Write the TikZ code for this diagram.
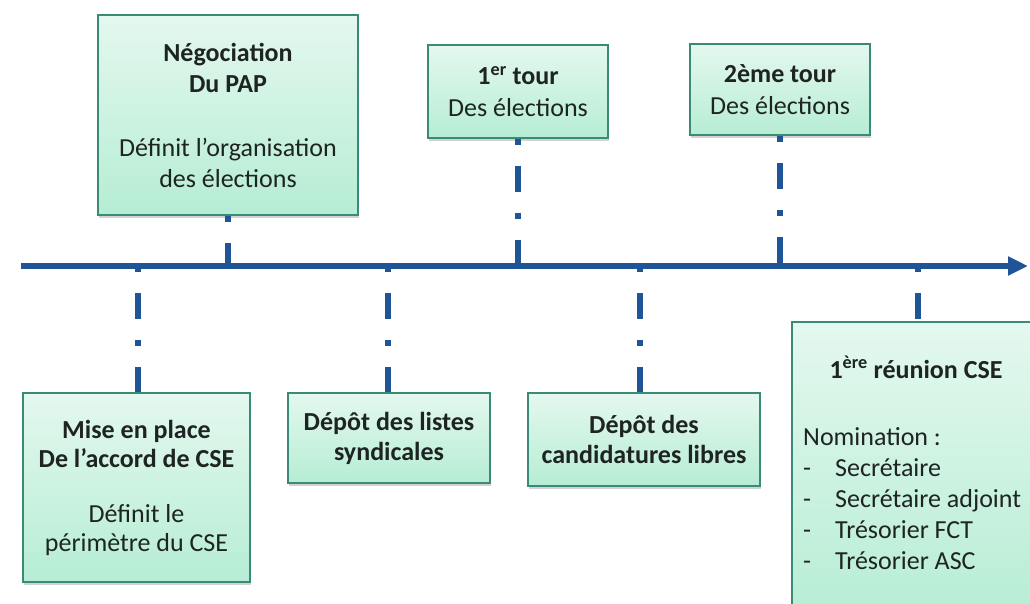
\documentclass[tikz,border=0pt]{standalone}
\usepackage{fontspec}
\setmainfont{Carlito}
\usepackage{tikz}
\usetikzlibrary{arrows.meta,shadows}
\definecolor{axisblue}{RGB}{31,84,150}
\definecolor{boxedge}{RGB}{58,138,118}
\definecolor{boxtop}{RGB}{228,248,239}
\definecolor{boxbot}{RGB}{182,237,212}
\definecolor{inkgray}{RGB}{30,36,34}

\begin{document}
\begin{tikzpicture}[x=1pt,y=-1pt,
  evbox/.style={draw=boxedge, line width=1.2pt, top color=boxtop, bottom color=boxbot,
    drop shadow={opacity=0.35,shadow xshift=1pt,shadow yshift=-3pt},
    align=center, inner sep=0pt, text=inkgray, font=\fontsize{26}{31}\selectfont},
  evtext/.style={text=inkgray, inner sep=0pt, font=\fontsize{26}{31}\selectfont},
  timeline/.style={draw=axisblue, line width=5.5pt, -{Triangle[length=20pt,width=18pt]}},
  tick/.style={draw=axisblue, line width=6pt, dash pattern=on 6pt off 21pt on 26pt off 21pt}]
\clip (0,0) rectangle (1030,603);
\fill[white] (0,0) rectangle (1030,603);

% axe du temps
\coordinate (tstart) at (21,266);
\coordinate (tend) at (1028,266);
\coordinate (tAccord) at (138,266);
\coordinate (tPAP) at (228,266);
\coordinate (tListes) at (388,266);
\coordinate (tTour1) at (518,266);
\coordinate (tLibres) at (640,266);
\coordinate (tTour2) at (780,266);
\coordinate (tReunion) at (918,266);
\draw[timeline] (tstart) -- (tend);

% au dessus
\node[evbox, minimum width=260pt, minimum height=200pt] (pap) at (228,115)
  {\textbf{Négociation}\\\textbf{Du PAP}\\[33pt]Définit l’organisation\\des élections};
\node[evbox, minimum width=180pt, minimum height=93pt, font=\fontsize{26}{32}\selectfont] (tour1) at (518,91.5)
  {\textbf{1\textsuperscript{er} tour}\\Des élections};
\node[evbox, minimum width=180pt, minimum height=91pt, font=\fontsize{26}{32}\selectfont] (tour2) at (780,89.5)
  {\textbf{2ème tour}\\Des élections};

% en dessous
\node[evbox, minimum width=227pt, minimum height=189pt, font=\fontsize{26}{29}\selectfont] (accord) at (136.5,487.5)
  {\textbf{Mise en place}\\\textbf{De l’accord de CSE}\\[26pt]Définit le\\périmètre du CSE};
\node[evbox, minimum width=202pt, minimum height=90pt, font=\fontsize{26}{30}\selectfont] (listes) at (389,438)
  {\textbf{Dépôt des listes}\\\textbf{syndicales}};
\node[evbox, minimum width=232pt, minimum height=93pt, font=\fontsize{26}{30}\selectfont] (libres) at (644,439.5)
  {\textbf{Dépôt des}\\\textbf{candidatures libres}};
\node[evbox, minimum width=250pt, minimum height=300pt] (reunion) at (917,472) {};
\node[evtext, anchor=base] (reunionT) at (916,378) {\textbf{1\textsuperscript{ère} réunion CSE}};
\node[evtext, anchor=north west, align=left] (reunionL) at (803,427)
  {Nomination :\\\makebox[32pt][l]{-}Secrétaire\\\makebox[32pt][l]{-}Secrétaire adjoint\\
   \makebox[32pt][l]{-}Trésorier FCT\\\makebox[32pt][l]{-}Trésorier ASC};

% liaisons
\draw[tick] (pap.south) -- (tPAP);
\draw[tick] (tour1.south) -- (tTour1);
\draw[tick] (tour2.south) -- (tTour2);
\draw[tick] (tAccord) -- (tAccord |- accord.north);
\draw[tick] (tListes) -- (tListes |- listes.north);
\draw[tick] (tLibres) -- (tLibres |- libres.north);
\draw[tick] (tReunion) -- (tReunion |- reunion.north);
\end{tikzpicture}
\end{document}
